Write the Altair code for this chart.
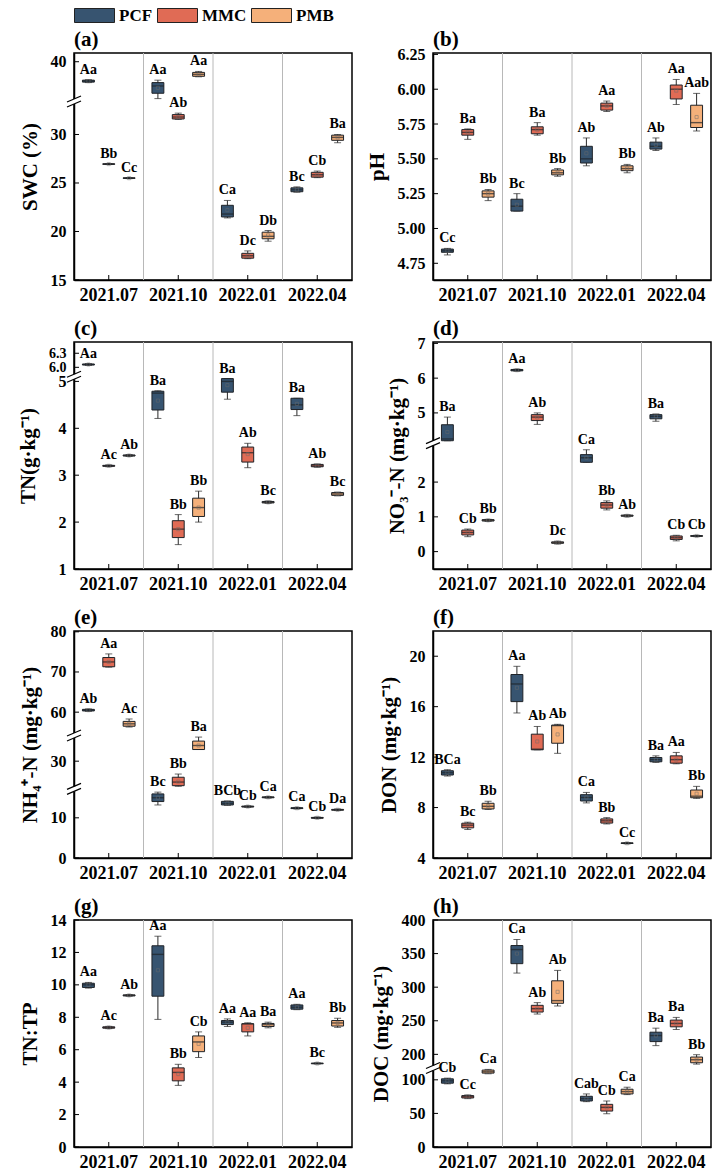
import altair as alt
import pandas as pd

MONTHS = ["2021.07", "2021.10", "2022.01", "2022.04"]
TRTS = ["PCF", "MMC", "PMB"]
COLORS = ["#375470", "#E06B55", "#F5B07A"]

# order within each list: for each month -> PCF, MMC, PMB
# (a) SWC
SWC_LO = [37.85, 26.90, 25.45, 36.20, 31.55, 38.45, 21.40, 17.20, 19.00, 24.05, 25.55, 29.15]
SWC_Q1 = [37.90, 26.92, 25.48, 36.75, 31.60, 38.50, 21.50, 17.25, 19.25, 24.10, 25.60, 29.40]
SWC_MED = [38.00, 26.95, 25.50, 37.50, 31.80, 38.70, 21.80, 17.50, 19.50, 24.30, 25.85, 29.70]
SWC_Q3 = [38.10, 26.98, 25.53, 37.85, 32.05, 38.90, 22.70, 17.75, 19.93, 24.50, 26.10, 29.93]
SWC_HI = [38.15, 27.00, 25.55, 38.10, 32.20, 39.00, 23.20, 18.00, 20.10, 24.60, 26.23, 30.00]
SWC_MEAN = [38.00, 26.95, 25.50, 37.30, 31.80, 38.70, 22.20, 17.50, 19.60, 24.30, 25.85, 29.70]
SWC_LET = ["Aa", "Bb", "Cc", "Aa", "Ab", "Aa", "Ca", "Dc", "Db", "Bc", "Cb", "Ba"]

# (b) pH
PH_LO = [4.810, 5.640, 5.200, 5.125, 5.670, 5.375, 5.450, 5.840, 5.400, 5.560, 5.890, 5.700]
PH_Q1 = [4.829, 5.670, 5.225, 5.125, 5.680, 5.385, 5.470, 5.850, 5.415, 5.570, 5.930, 5.725]
PH_MED = [4.840, 5.690, 5.250, 5.160, 5.710, 5.400, 5.500, 5.880, 5.430, 5.590, 6.000, 5.760]
PH_Q3 = [4.852, 5.710, 5.270, 5.210, 5.730, 5.420, 5.590, 5.900, 5.450, 5.620, 6.030, 5.885]
PH_HI = [4.857, 5.715, 5.280, 5.250, 5.760, 5.430, 5.650, 5.915, 5.460, 5.650, 6.070, 5.970]
PH_MEAN = [4.840, 5.690, 5.250, 5.170, 5.710, 5.400, 5.540, 5.880, 5.430, 5.600, 5.990, 5.800]
PH_LET = ["Cc", "Ba", "Bb", "Bc", "Ba", "Bb", "Ab", "Aa", "Bb", "Ab", "Aa", "Aab"]

# (c) TN
TN_LO = [6.04, 3.18, 3.40, 4.21, 1.52, 2.00, 4.62, 3.16, 2.40, 4.27, 3.17, 2.56]
TN_Q1 = [6.05, 3.19, 3.41, 4.39, 1.67, 2.12, 4.77, 3.28, 2.41, 4.40, 3.18, 2.57]
TN_MED = [6.06, 3.20, 3.42, 4.75, 1.85, 2.31, 5.00, 3.48, 2.42, 4.50, 3.20, 2.60]
TN_Q3 = [6.07, 3.21, 3.43, 4.79, 2.03, 2.51, 5.06, 3.60, 2.44, 4.64, 3.23, 2.63]
TN_HI = [6.08, 3.22, 3.44, 4.80, 2.16, 2.66, 5.06, 3.68, 2.45, 4.64, 3.24, 2.64]
TN_MEAN = [6.06, 3.20, 3.42, 4.59, 1.85, 2.31, 4.92, 3.45, 2.42, 4.52, 3.20, 2.60]
TN_LET = ["Aa", "Ac", "Ab", "Ba", "Bb", "Bb", "Ba", "Ab", "Bc", "Ba", "Ab", "Bc"]

# (d) NO3--N
NO3_LO = [4.20, 0.43, 0.87, 6.20, 4.67, 0.22, 2.57, 1.20, 1.00, 4.76, 0.31, 0.43]
NO3_Q1 = [4.20, 0.48, 0.88, 6.21, 4.78, 0.24, 2.57, 1.25, 1.02, 4.83, 0.35, 0.44]
NO3_MED = [4.25, 0.55, 0.90, 6.23, 4.88, 0.26, 2.70, 1.34, 1.03, 4.90, 0.40, 0.45]
NO3_Q3 = [4.66, 0.62, 0.92, 6.25, 4.95, 0.28, 2.79, 1.41, 1.05, 4.95, 0.45, 0.46]
NO3_HI = [4.88, 0.65, 0.93, 6.26, 5.00, 0.30, 2.93, 1.46, 1.06, 4.97, 0.47, 0.47]
NO3_MEAN = [4.45, 0.55, 0.90, 6.23, 4.87, 0.26, 2.70, 1.34, 1.03, 4.90, 0.40, 0.45]
NO3_LET = ["Ba", "Cb", "Bb", "Aa", "Ab", "Dc", "Ca", "Bb", "Ab", "Ba", "Cb", "Cb"]

# (e) NH4+-N
NH4_LO = [60.2, 71.2, 56.3, 13.2, 23.75, 32.9, 13.1, 12.6, 14.9, 12.2, 9.8, 11.8]
NH4_Q1 = [60.3, 71.3, 56.5, 14.05, 23.9, 32.9, 13.2, 12.7, 15.0, 12.3, 9.9, 11.9]
NH4_MED = [60.5, 72.5, 57.1, 15.0, 24.8, 33.9, 13.6, 12.8, 15.1, 12.4, 10.0, 12.0]
NH4_Q3 = [60.7, 73.6, 57.7, 15.95, 26.0, 35.0, 14.1, 12.9, 15.2, 12.5, 10.1, 12.1]
NH4_HI = [60.8, 74.5, 58.3, 16.4, 26.8, 36.0, 14.2, 13.0, 15.3, 12.6, 10.2, 12.2]
NH4_MEAN = [60.5, 72.5, 57.1, 15.0, 24.9, 33.9, 13.6, 12.8, 15.1, 12.4, 10.0, 12.0]
NH4_LET = ["Ab", "Aa", "Ac", "Bc", "Bb", "Ba", "BCb", "Cb", "Ca", "Ca", "Cb", "Da"]

# (f) DON
DON_LO = [10.50, 6.26, 7.85, 15.50, 12.58, 12.30, 8.37, 6.70, 5.12, 11.58, 11.47, 8.73]
DON_Q1 = [10.58, 6.39, 7.89, 16.40, 12.58, 13.10, 8.52, 6.77, 5.15, 11.63, 11.52, 8.78]
DON_MED = [10.76, 6.60, 8.10, 17.80, 12.63, 14.50, 8.80, 6.95, 5.17, 11.80, 11.80, 8.90]
DON_Q3 = [10.92, 6.76, 8.34, 18.55, 13.82, 14.54, 9.02, 7.10, 5.20, 11.97, 12.10, 9.39]
DON_HI = [11.00, 6.84, 8.50, 19.20, 14.43, 14.60, 9.20, 7.20, 5.22, 12.10, 12.37, 9.68]
DON_MEAN = [10.76, 6.60, 8.12, 17.50, 13.24, 13.80, 8.80, 6.95, 5.17, 11.80, 11.80, 9.10]
DON_LET = ["BCa", "Bc", "Bb", "Aa", "Ab", "Ab", "Ca", "Bb", "Cc", "Ba", "Aa", "Bb"]

# (g) TN:TP
TNTP_LO = [9.80, 7.30, 9.30, 7.87, 3.80, 5.52, 7.43, 6.85, 7.35, 8.47, 5.12, 7.38]
TNTP_Q1 = [9.84, 7.33, 9.32, 9.30, 4.08, 5.88, 7.55, 7.10, 7.43, 8.50, 5.14, 7.46]
TNTP_MED = [10.00, 7.37, 9.35, 11.88, 4.60, 6.48, 7.70, 7.60, 7.55, 8.62, 5.15, 7.65]
TNTP_Q3 = [10.10, 7.41, 9.38, 12.41, 4.88, 6.85, 7.80, 7.60, 7.62, 8.76, 5.17, 7.80]
TNTP_HI = [10.15, 7.44, 9.40, 13.00, 5.10, 7.10, 7.90, 7.66, 7.70, 8.80, 5.19, 7.94]
TNTP_MEAN = [10.00, 7.37, 9.35, 10.90, 4.50, 6.36, 7.70, 7.35, 7.55, 8.62, 5.15, 7.65]
TNTP_LET = ["Aa", "Ac", "Ab", "Aa", "Bb", "Cb", "Aa", "Aa", "Ba", "Aa", "Bc", "Bb"]

# (h) DOC
DOC_LO = [94.0, 72.0, 109.0, 321.0, 260.0, 272.0, 67.5, 49.5, 78.0, 213.0, 237.0, 185.5]
DOC_Q1 = [95.0, 73.0, 110.0, 335.0, 263.0, 276.0, 68.5, 53.5, 79.0, 219.0, 241.0, 187.5]
DOC_MED = [98.5, 75.0, 112.0, 356.0, 268.0, 280.0, 72.0, 59.0, 82.5, 228.0, 246.0, 192.0]
DOC_Q3 = [101.5, 76.5, 114.5, 362.0, 273.0, 309.5, 75.5, 63.5, 86.0, 233.0, 251.0, 196.0]
DOC_HI = [102.5, 77.5, 115.5, 371.0, 277.0, 325.0, 79.0, 68.5, 89.0, 239.0, 255.0, 199.5]
DOC_MEAN = [98.5, 75.0, 112.0, 350.0, 268.0, 293.0, 72.0, 59.0, 82.5, 228.0, 246.0, 192.0]
DOC_LET = ["Cb", "Cc", "Ca", "Ca", "Ab", "Ab", "Cab", "Cb", "Ca", "Ba", "Ba", "Bb"]

W, H = 278, 227
FONT = "Liberation Serif"


def piecewise_range(domain):
    # domain: [d0, b1lo, b1hi, b2lo, b2hi, ..., dmax]; gaps collapse to one pixel row
    shown = domain[1] - domain[0]
    for i in range(2, len(domain) - 1, 2):
        shown += domain[i + 1] - domain[i]
    ppu = H / shown
    rng = [H]
    y = H
    for i in range(1, len(domain)):
        if i % 2 == 1:
            y = y - (domain[i] - domain[i - 1]) * ppu
        rng.append(y)
    return rng


def panel(tag, ytitle, lo, q1, med, q3, hi, mean, letters, domain, ticks, label_expr,
          legend=False, small_above=None):
    rows = []
    for k in range(12):
        rows.append(dict(month=MONTHS[k // 3], trt=TRTS[k % 3], lo=lo[k], q1=q1[k], med=med[k],
                         q3=q3[k], hi=hi[k], mean=mean[k], let=letters[k]))
    df = pd.DataFrame(rows)
    ys = alt.Scale(domain=domain, range=piecewise_range(domain), nice=False, zero=False)
    xs = alt.Scale(domain=MONTHS, paddingInner=0, paddingOuter=0)
    if small_above is not None:
        lfs = alt.condition(f"datum.value >= {small_above}", alt.value(14), alt.value(16))
    else:
        lfs = 16
    yax = alt.Axis(values=ticks, labelExpr=label_expr, labelFontSize=lfs, labelPadding=8,
                   tickSize=0, labelOverlap=False, labelFlush=False, titleFontSize=21, titlePadding=10)
    xax = alt.Axis(title=None, labelAngle=0, labelFontSize=18, labelPadding=6, tickSize=0,
                   labelOverlap=False, labelFlush=False)
    xo = alt.XOffset("trt:N", scale=alt.Scale(domain=TRTS, paddingInner=0.415, paddingOuter=0.415))
    xn = alt.X("month:N", scale=xs, sort=MONTHS, axis=xax, title=None)

    def Y(f):
        return alt.Y(f, scale=ys, axis=yax, title=ytitle)

    base = alt.Chart(df)
    seps = alt.Chart(pd.DataFrame({"month": MONTHS[1:]})).mark_rule(color="#b8b8b8", strokeWidth=1).encode(
        x=alt.X("month:N", scale=xs, sort=MONTHS, bandPosition=0, axis=xax, title=None))
    whisk = base.mark_rule(color="#2a2a2a", strokeWidth=1).encode(
        x=xn, xOffset=xo, y=Y("lo:Q"), y2="hi:Q")
    cap_lo = base.mark_tick(orient="horizontal", size=7, thickness=1, color="#2a2a2a").encode(
        x=xn, xOffset=xo, y=Y("lo:Q"))
    cap_hi = base.mark_tick(orient="horizontal", size=7, thickness=1, color="#2a2a2a").encode(
        x=xn, xOffset=xo, y=Y("hi:Q"))
    if legend:
        leg = alt.Legend(title=None, orient="none", legendX=12, legendY=-46, direction="horizontal",
                         symbolType="M-2.5,-0.875H2.5V0.875H-2.5Z", symbolSize=256,
                         symbolStrokeColor="#222", symbolStrokeWidth=1, symbolOpacity=1,
                         labelFont=FONT, labelFontSize=17, labelFontWeight="bold", labelColor="black",
                         columnPadding=2, labelOffset=16, padding=0, gridAlign="none")
    else:
        leg = None
    box = base.mark_bar(stroke="#1f2328", strokeWidth=1, opacity=1).encode(
        x=xn, xOffset=xo, y=Y("q1:Q"), y2="q3:Q",
        color=alt.Color("trt:N", scale=alt.Scale(domain=TRTS, range=COLORS), legend=leg))
    medl = base.mark_tick(orient="horizontal", size=12, thickness=1.4, color="#1f2328").encode(
        x=xn, xOffset=xo, y=Y("med:Q"))
    meanp = base.mark_point(shape="square", size=10, filled=False, strokeWidth=0.7, color="#6b6b6b").encode(
        x=xn, xOffset=xo, y=Y("mean:Q"))
    lets = base.mark_text(baseline="bottom", dy=-3, fontSize=14, fontWeight="bold", font=FONT,
                          color="black").encode(
        x=xn, xOffset=xo, y=Y("hi:Q"), text="let:N")
    xt = alt.Chart(pd.DataFrame({"month": MONTHS})).mark_rule(color="black", strokeWidth=1).encode(
        x=xn, y=alt.value(H), y2=alt.value(H - 5))
    yt = alt.Chart(pd.DataFrame({"v": ticks})).mark_rule(color="black", strokeWidth=1).encode(
        x=alt.value(0), x2=alt.value(5), y=Y("v:Q"))
    lab = alt.Chart(pd.DataFrame({"t": [tag]})).mark_text(
        align="left", baseline="bottom", font=FONT, fontSize=21, fontWeight="bold", color="black").encode(
        x=alt.value(0), y=alt.value(-3), text="t:N")
    layers = [seps, whisk, cap_lo, cap_hi, box, medl, meanp, lets, xt, yt, lab]
    brk = [domain[i] for i in range(1, len(domain) - 1, 2)]
    if brk:
        bd = pd.DataFrame({"b": brk})
        gap = alt.Chart(bd).mark_rule(color="white", strokeWidth=4, yOffset=-2.5, y2Offset=2.5).encode(
            x=alt.value(0), y=Y("b:Q"), y2="b:Q")
        s1 = alt.Chart(bd).mark_rule(color="black", strokeWidth=1.2, yOffset=0.5, y2Offset=-5.5).encode(
            x=alt.value(-7), x2=alt.value(7), y=Y("b:Q"), y2="b:Q")
        s2 = alt.Chart(bd).mark_rule(color="black", strokeWidth=1.2, yOffset=5.5, y2Offset=-0.5).encode(
            x=alt.value(-7), x2=alt.value(7), y=Y("b:Q"), y2="b:Q")
        layers += [gap, s1, s2]
    return alt.layer(*layers).properties(width=W, height=H)


INT = "format(datum.value, 'd')"
pa = panel("(a)", "SWC (%)", SWC_LO, SWC_Q1, SWC_MED, SWC_Q3, SWC_HI, SWC_MEAN, SWC_LET,
           [15, 33.4, 35.9, 40.9], [15, 20, 25, 30, 40], INT, legend=True)
pb = panel("(b)", "pH", PH_LO, PH_Q1, PH_MED, PH_Q3, PH_HI, PH_MEAN, PH_LET,
           [4.63, 6.26], [4.75, 5.0, 5.25, 5.5, 5.75, 6.0, 6.25], "format(datum.value, '.2f')")
pc = panel("(c)", "TN(g·kg⁻¹)", TN_LO, TN_Q1, TN_MED, TN_Q3, TN_HI, TN_MEAN, TN_LET,
           [1, 5.1, 5.8, 6.54], [1, 2, 3, 4, 5, 6.0, 6.3],
           "datum.value >= 6 ? format(datum.value, '.1f') : format(datum.value, 'd')", small_above=6)
pd_ = panel("(d)", "NO₃⁻-N (mg·kg⁻¹)", NO3_LO, NO3_Q1, NO3_MED, NO3_Q3, NO3_HI, NO3_MEAN, NO3_LET,
            [-0.5, 3.12, 4.13, 7.04], [0, 1, 2, 5, 6, 7], INT)
pe = panel("(e)", "NH₄⁺-N (mg·kg⁻¹)", NH4_LO, NH4_Q1, NH4_MED, NH4_Q3, NH4_HI, NH4_MEAN, NH4_LET,
           [0, 17.2, 23.1, 36.4, 54.2, 80.2], [0, 10, 30, 60, 70, 80], INT)
pf = panel("(f)", "DON (mg·kg⁻¹)", DON_LO, DON_Q1, DON_MED, DON_Q3, DON_HI, DON_MEAN, DON_LET,
           [4, 22], [4, 8, 12, 16, 20], INT)
pg = panel("(g)", "TN:TP", TNTP_LO, TNTP_Q1, TNTP_MED, TNTP_Q3, TNTP_HI, TNTP_MEAN, TNTP_LET,
           [0, 14], [0, 2, 4, 6, 8, 10, 12, 14], INT)
ph = panel("(h)", "DOC (mg·kg⁻¹)", DOC_LO, DOC_Q1, DOC_MED, DOC_Q3, DOC_HI, DOC_MEAN, DOC_LET,
           [0, 117.5, 179.6, 400], [0, 50, 100, 200, 250, 300, 350, 400], INT)

chart = alt.concat(pa, pb, pc, pd_, pe, pf, pg, ph, columns=2, spacing=12).resolve_scale(
    color="independent", x="independent", y="independent").resolve_legend(color="independent").properties(
    padding={"left": 16, "top": 6, "right": 4, "bottom": 0}, background="white"
).configure_view(stroke="black", strokeWidth=1.5).configure_axis(
    labelFont=FONT, labelFontWeight="bold", labelColor="black", titleFont=FONT, titleFontWeight="bold",
    titleColor="black", domainColor="black", domainWidth=1.5, grid=False)

chart.save("out.html", embed_options={"renderer": "svg", "actions": False})
